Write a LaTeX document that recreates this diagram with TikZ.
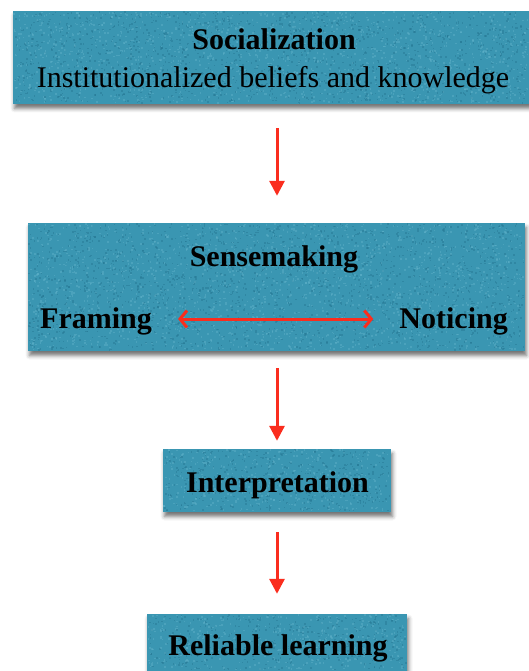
\documentclass[tikz,border=0pt]{standalone}
\usepackage{fontspec}
\setmainfont{Liberation Serif}
\usetikzlibrary{arrows.meta,calc,shadows.blur}
\definecolor{boxteal}{RGB}{58,150,178}
\definecolor{grainlo}{RGB}{36,118,146}
\definecolor{grainhi}{RGB}{96,178,202}
\definecolor{arrred}{RGB}{250,45,30}
% scatter small specks over a rectangle: x0, y0, width, height, count, colour
\newcommand\grainfill[6]{%
  \foreach \k in {1,...,#5}{%
    \pgfmathsetmacro\gx{#1+rnd*(#3-2)}%
    \pgfmathsetmacro\gy{#2+rnd*(#4-2)}%
    \fill[#6,opacity=.45] (\gx,\gy) rectangle ++(1.6,1.6);
  }}
\begin{document}
\begin{tikzpicture}[x=1pt,y=-1pt,
  panel/.style={rectangle,fill=boxteal,draw=none,inner sep=0pt,
    blur shadow={shadow xshift=1.5pt,shadow yshift=-4.5pt,
      shadow blur radius=4pt,shadow opacity=55}},
  lbl/.style={font=\fontsize{30}{36}\selectfont,text=black,inner sep=0pt},
  lblb/.style={lbl,font=\fontsize{30}{36}\selectfont\bfseries},
  flow/.style={draw=arrred,line width=3pt,-{Triangle[width=15pt,length=15pt]}},
  both/.style={draw=arrred,line width=3pt,
    {Straight Barb[length=7pt,width=17pt,line width=3pt]}-{Straight Barb[length=7pt,width=17pt,line width=3pt]}}]
  \useasboundingbox (0,0) rectangle (529,671);
  \clip (0,0) rectangle (529,671);
  \pgfmathsetseed{4127}

  % panels
  \node[panel,minimum width=527pt,minimum height=93pt] (b1) at (276.5,57.5) {};
  \node[panel,minimum width=497pt,minimum height=128pt] (b2) at (276.5,287) {};
  \node[panel,minimum width=228pt,minimum height=63pt] (b3) at (277,480.5) {};
  \node[panel,minimum width=260pt,minimum height=80pt] (b4) at (277,654) {};

  % paper grain on the panels
  \grainfill{13}{11}{516}{93}{1400}{grainlo}
  \grainfill{13}{11}{516}{93}{1400}{grainhi}
  \grainfill{28}{223}{497}{128}{1800}{grainlo}
  \grainfill{28}{223}{497}{128}{1800}{grainhi}
  \grainfill{163}{449}{228}{63}{420}{grainlo}
  \grainfill{163}{449}{228}{63}{420}{grainhi}
  \grainfill{147}{614}{260}{57}{420}{grainlo}
  \grainfill{147}{614}{260}{57}{420}{grainhi}

  % texts
  \node[lblb,anchor=base] (soc) at (274,50) {Socialization};
  \node[lbl,anchor=base] (inst) at (273,88) {Institutionalized beliefs and knowledge};
  \node[lblb,anchor=base] (sen) at (274,266) {Sensemaking};
  \node[lblb,anchor=base west] (fr) at (40,328) {Framing};
  \node[lblb,anchor=base east] (nt) at (508,328) {Noticing};
  \node[lblb,anchor=base] (int) at (277.5,492) {Interpretation};
  \node[lblb,anchor=base] (rel) at (278,655) {Reliable learning};

  % connectors
  \draw[flow] ($(b1.south -| b3.north)+(0,24)$) -- ($(b2.north -| b3.north)+(0,-27)$);
  \draw[flow] ($(b2.south -| b3.north)+(0,17)$) -- ($(b3.north)+(0,-8)$);
  \draw[flow] ($(b3.south)+(0,20)$) -- ($(b4.north)+(0,-20)$);
  \draw[both] ($(fr.base east)+(26,-9)$) -- ($(nt.base west)+(-26,-9)$);
\end{tikzpicture}
\end{document}
